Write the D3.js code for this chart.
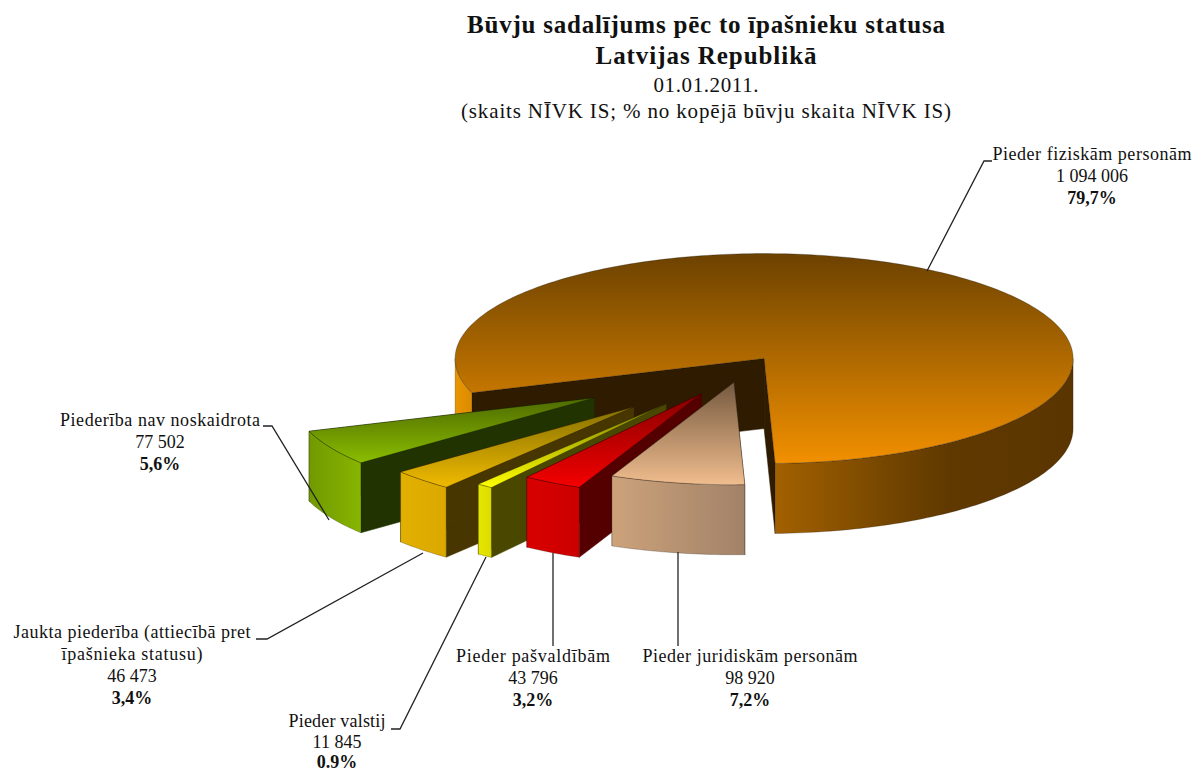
<!DOCTYPE html>
<html>
<head>
<meta charset="utf-8">
<script src="https://cdn.jsdelivr.net/npm/d3@7"></script>
<style>
    html, body { margin: 0; padding: 0; background: #fff; }
    text { font-family: "Liberation Serif", "Times New Roman", serif; fill: #111; }
</style>
</head>
<body>
<div id="chart"></div>
<script>
// Chart data
const owners = ["Pieder fiziskām personām", "Pieder juridiskām personām", "Pieder pašvaldībām",
    "Pieder valstij", "Jaukta piederība (attiecībā pret|īpašnieka statusu)", "Piederība nav noskaidrota"];
const counts = [1094006, 98920, 43796, 11845, 46473, 77502];
const shares = ["79,7%", "7,2%", "3,2%", "0.9%", "3,4%", "5,6%"];
const titleLines = ["Būvju sadalījums pēc to īpašnieku statusa", "Latvijas Republikā", "01.01.2011.",
    "(skaits NĪVK IS; % no kopējā būvju skaita NĪVK IS)"];

// Look of each slice: top face dark/light, outer side, cut wall
const topColors = [["#6c4200", "#f29000"], ["#75593f", "#f0bd8e"], ["#860000", "#f40000"],
    ["#7e7e00", "#ffff00"], ["#857000", "#f0ba00"], ["#4e6a00", "#8abd00"]];
const sideColors = [null, ["#cca27a", "#a28268"], ["#d80000", "#cc0000"], ["#e6e600", "#dcdc00"],
    ["#e2b000", "#dba800"], ["#709a00", "#88b400"]];
const wallColors = ["#2e1b00", "#3d2c1c", "#540000", "#4a4800", "#473600", "#213300"];

// How far each slice is pulled out of the pie
const explode = [0.132, 0.12, 0.26, 0.405, 0.495, 0.545];
const spread = [1, 0.975, 0.975, 0.975, 0.975, 0.975];

// Label anchor (centre x, first baseline), row step, name widths per row, leader lines
const labelAt = [[1092, 160], [750, 662], [533, 662], [337, 727], [132, 638], [160, 426]];
const rowGap = [22, 22, 22, 20.5, 22, 22];
const nameWidths = [[199], [215], [154], [97], [237, 141], [200]];
const leaders = [
    [[927, 271], [984, 161], [992, 161]],
    [[678, 552], [678, 646]],
    [[553, 553], [553, 646]],
    [[486, 557], [400, 729], [391, 729]],
    [[423, 553], [267, 639], [256, 639]],
    [[329, 520], [272, 426], [263, 426]]
];

const width = 1195, height = 773;
const cx = 741, cy = 370, rx = 309, ry = 105, depth = 70;
const startAngle = 251 * Math.PI / 180;

const svg = d3.select("#chart").append("svg")
    .attr("width", width)
    .attr("height", height)
    .style("display", "block");

const defs = svg.append("defs");

const pie = d3.pie()
    .sort(null)
    .startAngle(startAngle)
    .endAngle(startAngle + 2 * Math.PI);

const arcs = pie(counts);
const line = d3.line();
const fmt = d3.formatLocale({ decimal: ",", thousands: " ", grouping: [3], currency: ["", ""] }).format(",d");

function gradient(id, stops, horizontal, attrs) {
    let g = defs.append("linearGradient")
        .attr("id", id)
        .attr("x1", 0).attr("y1", 0)
        .attr("x2", horizontal ? 1 : 0).attr("y2", horizontal ? 0 : 1);
    if (attrs) Object.entries(attrs).forEach(([k, v]) => g.attr(k, v));
    stops.forEach((c, i) => {
        let s = Array.isArray(c) ? c : [i / (stops.length - 1), c];
        g.append("stop").attr("offset", s[0]).attr("stop-color", s[1]);
    });
}

// Sample an arc of the ellipse around one apex
function rim(ax, ay, r, a0, a1, dy) {
    let n = Math.max(2, Math.ceil((a1 - a0) / 0.02));
    return d3.range(n + 1).map(i => {
        let a = a0 + (a1 - a0) * i / n;
        return [ax + r * rx * Math.sin(a), ay - r * ry * Math.cos(a) + dy];
    });
}

const pieces = svg.append("g");

// Paint back to front: big slice, then the small ones from the left
[0, 5, 4, 3, 2, 1].forEach(i => {
    let d = arcs[i];
    let mid = (d.startAngle + d.endAngle) / 2;
    let ax = cx + explode[i] * rx * Math.sin(mid);
    let ay = cy - explode[i] * ry * Math.cos(mid);
    let r = spread[i];
    let g = pieces.append("g");

    gradient("top" + i, topColors[i], false);
    if (i === 0) {
        gradient("side0", [[0, "#ea9600"], [0.03, "#d88a00"], [0.505, "#a66300"], [0.72, "#704300"], [0.8, "#603900"], [1, "#5b3500"]],
            true, { gradientUnits: "userSpaceOnUse", x1: ax - r * rx, x2: ax + r * rx, y1: 0, y2: 0 });
    } else {
        gradient("side" + i, sideColors[i], true);
    }

    let start = rim(ax, ay, r, d.startAngle, d.startAngle, 0)[0];
    let end = rim(ax, ay, r, d.endAngle, d.endAngle, 0)[0];

    // Cut walls
    [start, end].forEach(p => {
        g.append("path")
            .attr("d", line([[ax, ay], p, [p[0], p[1] + depth], [ax, ay + depth]]) + "Z")
            .attr("fill", wallColors[i])
            .attr("stroke", wallColors[i])
            .attr("stroke-width", 0.5);
    });

    // Outer side: only the part of the rim that faces the viewer
    [0, 1].forEach(turn => {
        let a0 = Math.max(d.startAngle, Math.PI / 2 + turn * 2 * Math.PI);
        let a1 = Math.min(d.endAngle, 3 * Math.PI / 2 + turn * 2 * Math.PI);
        if (a1 <= a0) return;
        g.append("path")
            .attr("d", line(rim(ax, ay, r, a0, a1, 0).concat(rim(ax, ay, r, a0, a1, depth).reverse())) + "Z")
            .attr("fill", `url(#side${i})`)
            .attr("stroke", "#000")
            .attr("stroke-opacity", 0.35)
            .attr("stroke-width", 0.6);
    });

    // Top face
    g.append("path")
        .attr("d", line([[ax, ay]].concat(rim(ax, ay, r, d.startAngle, d.endAngle, 0))) + "Z")
        .attr("fill", `url(#top${i})`)
        .attr("stroke", "#000")
        .attr("stroke-opacity", 0.45)
        .attr("stroke-width", 0.6);
});

// Leader lines
svg.append("g").selectAll("path")
    .data(leaders)
    .join("path")
    .attr("d", d => line(d))
    .attr("fill", "none")
    .attr("stroke", "#222")
    .attr("stroke-width", 1.3);

// Title
const titleSizes = [25, 25, 21, 21];
const titleWidths = [478, 221, 105, 490];
const titleY = [33, 64, 92, 118];
svg.append("g").selectAll("text")
    .data(titleLines)
    .join("text")
    .attr("x", 706)
    .attr("y", (d, i) => titleY[i])
    .attr("text-anchor", "middle")
    .attr("font-size", (d, i) => titleSizes[i])
    .attr("font-weight", (d, i) => i < 2 ? "bold" : "normal")
    .attr("textLength", (d, i) => titleWidths[i])
    .attr("lengthAdjust", "spacing")
    .text(d => d);

// Slice labels
owners.forEach((name, i) => {
    let rows = name.split("|").map((t, j) => ({ text: t, weight: "normal", len: nameWidths[i][j] }));
    rows.push({ text: fmt(counts[i]), weight: "normal" }, { text: shares[i], weight: "bold" });
    svg.append("g").selectAll("text")
        .data(rows)
        .join("text")
        .attr("x", labelAt[i][0])
        .attr("y", (d, j) => labelAt[i][1] + j * rowGap[i])
        .attr("text-anchor", "middle")
        .attr("font-size", 18)
        .attr("font-weight", d => d.weight)
        .attr("textLength", d => d.len || null)
        .attr("lengthAdjust", "spacing")
        .text(d => d.text);
});
</script>
</body>
</html>
